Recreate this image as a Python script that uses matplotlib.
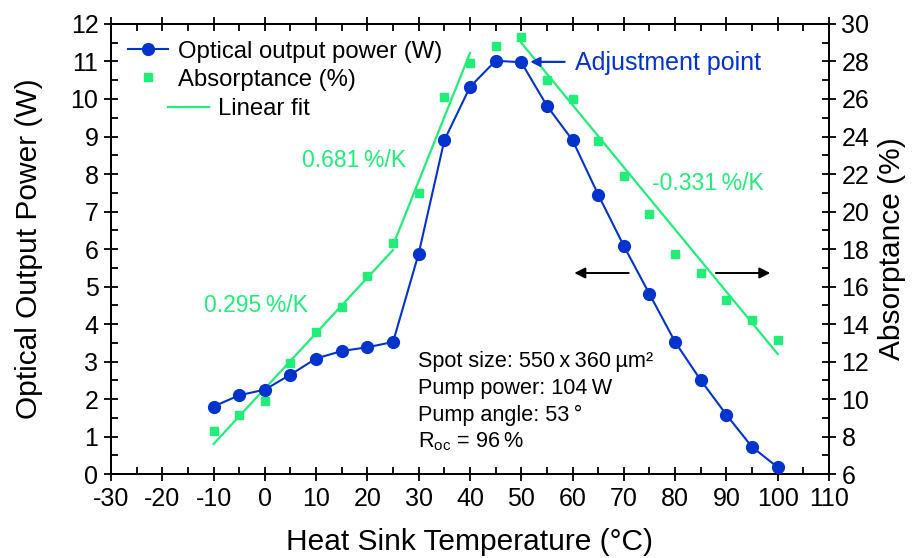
import numpy as np
import matplotlib
matplotlib.use('Agg')
import matplotlib.pyplot as plt
from matplotlib.lines import Line2D
from matplotlib.ticker import MultipleLocator

plt.rcParams['font.family'] = ['Liberation Sans', 'DejaVu Sans']
plt.rcParams['mathtext.fontset'] = 'custom'
plt.rcParams['mathtext.rm'] = 'Liberation Sans'
plt.rcParams['mathtext.it'] = 'Liberation Sans:italic'
plt.rcParams['axes.unicode_minus'] = False

# heat sink temperature (C)
temp = [-10, -5, 0, 5, 10, 15, 20, 25, 30, 35, 40, 45, 50,
        55, 60, 65, 70, 75, 80, 85, 90, 95, 100]
# optical output power (W)
power = [1.8, 2.1, 2.25, 2.65, 3.08, 3.28, 3.38, 3.52, 5.88, 8.9, 10.32, 11.02, 10.98,
         9.82, 8.9, 7.45, 6.08, 4.8, 3.52, 2.5, 1.58, 0.72, 0.18]
# absorptance (%)
absorp = [8.3, 9.15, 9.9, 11.9, 13.6, 14.9, 16.55, 18.3, 21.0, 26.1, 27.9, 28.8, 29.3,
          27.0, 26.0, 23.75, 21.9, 19.85, 17.75, 16.7, 15.3, 14.2, 13.15]

# linear fit segments (endpoints)
fit1_t, fit1_a = [-10, 25], [7.6, 17.95]
fit2_t, fit2_a = [25, 40], [18.2, 28.45]
fit3_t, fit3_a = [50, 100], [29.0, 12.4]

blue = '#0233cc'
green = '#20ee78'

fig = plt.figure(figsize=(9.14, 5.58), dpi=100)
ax = fig.add_axes([0.1214, 0.1505, 0.7856, 0.8065])
ax2 = ax.twinx()

ax2.plot(fit1_t, fit1_a, color=green, lw=1.6, zorder=2)
ax2.plot(fit2_t, fit2_a, color=green, lw=1.6, zorder=2)
ax2.plot(fit3_t, fit3_a, color=green, lw=1.6, zorder=2)
ax2.plot(temp, absorp, 's', color=green, ms=6, mec=green, zorder=3)

ax.set_zorder(ax2.get_zorder() + 1)
ax.patch.set_visible(False)
ax.plot(temp, power, '-o', color=blue, lw=1.5, ms=8.5, zorder=4)

ax.set_xlim(-30, 110)
ax.set_ylim(0, 12)
ax2.set_ylim(6, 30)
ax.xaxis.set_major_locator(MultipleLocator(10))
ax.xaxis.set_minor_locator(MultipleLocator(5))
ax.yaxis.set_major_locator(MultipleLocator(1))
ax.yaxis.set_minor_locator(MultipleLocator(0.5))
ax2.yaxis.set_major_locator(MultipleLocator(2))
ax2.yaxis.set_minor_locator(MultipleLocator(1))

ax.tick_params(which='major', direction='inout', length=10, width=1.3, labelsize=18,
               top=True, right=False)
ax.tick_params(which='minor', direction='in', length=5, width=1.3, top=True, right=False)
ax.tick_params(axis='x', pad=4)
ax.tick_params(axis='y', pad=4)
ax2.tick_params(which='major', direction='inout', length=10, width=1.3, labelsize=18, pad=4)
ax2.tick_params(which='minor', direction='in', length=5, width=1.3)
for a in (ax, ax2):
    for s in a.spines.values():
        s.set_linewidth(1.3)

ax.set_xlabel('Heat Sink Temperature (°C)', fontsize=21.5)
ax.set_ylabel('Optical Output Power (W)', fontsize=21.5)
ax2.set_ylabel('Absorptance (%)', fontsize=21.5)
ax.xaxis.set_label_coords(0.5, -0.121)
ax.yaxis.set_label_coords(-0.094, 0.5)
ax2.yaxis.set_label_coords(1.068, 0.5)

# legend
h1 = Line2D([], [], color=blue, marker='o', ms=8.5, lw=1.5)
h2 = Line2D([], [], color=green, marker='s', ms=6, ls='none')
h3 = Line2D([], [], color=green, lw=1.6)
leg = ax.legend([h1, h2], ['Optical output power (W)', 'Absorptance (%)'],
                loc='upper left', bbox_to_anchor=(0.0, 1.0), frameon=False,
                fontsize=17.2, handlelength=1.7, handletextpad=0.4, labelspacing=0.25,
                borderaxespad=0.3)
ax.add_artist(leg)
ax.legend([h3], ['Linear fit'], loc='upper left', bbox_to_anchor=(0.056, 0.873),
          frameon=False, fontsize=17.2, handlelength=1.7, handletextpad=0.4,
          borderaxespad=0.3)

# annotations
ax.text(17.4, 8.37, '0.681\u2009%/K', color=green, fontsize=16.5, ha='center', va='center')
ax.text(-1.7, 4.5, '0.295\u2009%/K', color=green, fontsize=16.5, ha='center', va='center')
ax.text(86.4, 7.76, '-0.331\u2009%/K', color=green, fontsize=16.5, ha='center', va='center')

ax.annotate('', xy=(51.2, 10.99), xytext=(59.0, 10.99),
            arrowprops=dict(arrowstyle='-|>', color=blue, lw=1.6, mutation_scale=14))
ax.text(60.4, 10.95, 'Adjustment point', color=blue, fontsize=18, ha='left', va='center')

ax.annotate('', xy=(59.8, 5.36), xytext=(71.5, 5.36),
            arrowprops=dict(arrowstyle='-|>', color='black', lw=1.4, mutation_scale=16))
ax.annotate('', xy=(99.1, 5.36), xytext=(87.4, 5.36),
            arrowprops=dict(arrowstyle='-|>', color='black', lw=1.4, mutation_scale=16))

info = ['Spot size: 550\u2009x\u2009360\u2009µm²',
        'Pump power: 104\u2009W',
        'Pump angle: 53\u2009°',
        'R$_{\\rm oc}$ = 96\u2009%']
info_y = [3.0, 2.27, 1.55, 0.85]
for s, y in zip(info, info_y):
    ax.text(29.8, y, s, fontsize=15.6, ha='left', va='center')

fig.savefig('out.png', dpi=100)
